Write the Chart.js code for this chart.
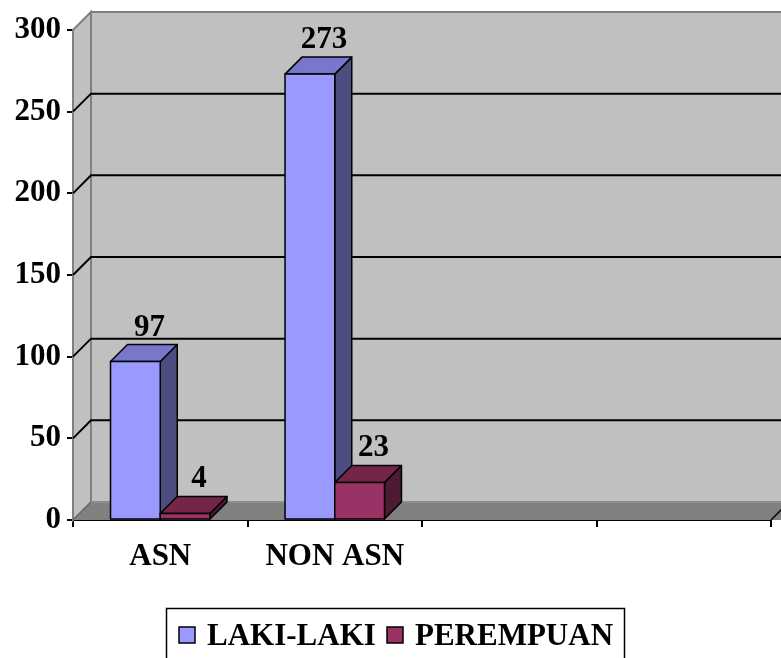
<!DOCTYPE html>
<html>
<head>
<meta charset="utf-8">
<script src="https://cdn.jsdelivr.net/npm/chart.js@4.4.0/dist/chart.umd.min.js"></script>
<style>
html,body{margin:0;padding:0;background:#fff;}
#wrap{width:781px;height:658px;position:relative;}
</style>
</head>
<body>
<div id="wrap"><canvas id="c" width="781" height="658"></canvas></div>
<script>
const categories = ['ASN', 'NON ASN', '', ''];
const lakiLaki = [97, 273];
const perempuan = [4, 23];
const seriesNames = ['LAKI-LAKI', 'PEREMPUAN'];
const yTicks = [0, 50, 100, 150, 200, 250, 300];

const FONT = '"Liberation Serif", "Times New Roman", serif';
const front = ['#9999FF', '#993366'];
const side = ['#4D4D80', '#4D1A33'];
const top3d = ['#7777CC', '#732649'];
const WDX = 18, WDY = 18;   // wall depth
const BDX = 17, BDY = 17;   // bar depth

const wallsPlugin = {
  id: 'walls',
  beforeDatasetsDraw(chart) {
    const ctx = chart.ctx;
    const y = chart.scales.y, x = chart.scales.x;
    const L = chart.chartArea.left, R = chart.width + 30;
    const T = y.getPixelForValue(300), B = y.getPixelForValue(0);
    ctx.save();
    ctx.fillStyle = '#C0C0C0';
    ctx.strokeStyle = '#808080';
    ctx.lineWidth = 2;
    ctx.fillRect(L + WDX, T - WDY, R - L, B - T);
    ctx.strokeRect(L + WDX, T - WDY, R - L, B - T);
    ctx.beginPath();
    ctx.moveTo(L, T); ctx.lineTo(L + WDX, T - WDY); ctx.lineTo(L + WDX, B - WDY); ctx.lineTo(L, B); ctx.closePath();
    ctx.fill(); ctx.stroke();
    ctx.fillStyle = '#808080';
    ctx.beginPath();
    ctx.moveTo(L, B); ctx.lineTo(L + WDX, B - WDY); ctx.lineTo(R + WDX, B - WDY); ctx.lineTo(R, B); ctx.closePath();
    ctx.fill();
    ctx.strokeStyle = '#5a5a5a'; ctx.lineWidth = 1;
    ctx.beginPath(); ctx.moveTo(L, B); ctx.lineTo(L + WDX, B - WDY); ctx.stroke();
    ctx.strokeStyle = '#9a9a9a';
    ctx.beginPath(); ctx.moveTo(L + WDX, B - WDY); ctx.lineTo(R + WDX, B - WDY); ctx.stroke();
    const xr = x.right;
    ctx.strokeStyle = '#000'; ctx.lineWidth = 1.5;
    ctx.beginPath(); ctx.moveTo(xr, B); ctx.lineTo(xr + WDX, B - WDY); ctx.stroke();
    ctx.strokeStyle = '#000'; ctx.lineWidth = 2;
    yTicks.forEach(v => {
      if (v === 0 || v === 300) return;
      const py = y.getPixelForValue(v);
      ctx.beginPath();
      ctx.moveTo(L, py); ctx.lineTo(L + WDX, py - WDY); ctx.lineTo(R + WDX, py - WDY);
      ctx.stroke();
    });
    ctx.restore();
  }
};

const bars3dPlugin = {
  id: 'bars3d',
  afterDatasetsDraw(chart) {
    const ctx = chart.ctx;
    const metas = [chart.getDatasetMeta(0), chart.getDatasetMeta(1)];
    const n = lakiLaki.length;
    ctx.save();
    ctx.strokeStyle = '#000';
    ctx.lineWidth = 1.5;
    ctx.lineJoin = 'round';
    for (let i = 0; i < n; i++) {
      for (let d = 0; d < 2; d++) {
        const el = metas[d].data[i];
        if (!el) continue;
        const l = el.x - el.width / 2, r = el.x + el.width / 2, t = el.y, b = el.base;
        ctx.fillStyle = side[d];
        ctx.beginPath();
        ctx.moveTo(r, b); ctx.lineTo(r + BDX, b - BDY); ctx.lineTo(r + BDX, t - BDY); ctx.lineTo(r, t); ctx.closePath();
        ctx.fill(); ctx.stroke();
        ctx.fillStyle = top3d[d];
        ctx.beginPath();
        ctx.moveTo(l, t); ctx.lineTo(l + BDX, t - BDY); ctx.lineTo(r + BDX, t - BDY); ctx.lineTo(r, t); ctx.closePath();
        ctx.fill(); ctx.stroke();
        ctx.fillStyle = front[d];
        ctx.fillRect(l, t, r - l, b - t);
        ctx.strokeRect(l, t, r - l, b - t);
      }
    }
    ctx.fillStyle = '#000';
    ctx.font = 'bold 31px ' + FONT;
    ctx.textAlign = 'center';
    ctx.textBaseline = 'alphabetic';
    for (let d = 0; d < 2; d++) {
      const data = chart.data.datasets[d].data;
      metas[d].data.forEach((el, i) => {
        ctx.fillText(String(data[i]), el.x + 14, el.y - BDY - 9);
      });
    }
    ctx.restore();
  },
  afterDraw(chart) {
    const ctx = chart.ctx;
    ctx.save();
    ctx.strokeStyle = '#000'; ctx.lineWidth = 1.5;
    ctx.strokeRect(166.5, 608.5, 458, 70);
    ctx.font = 'bold 31px ' + FONT;
    ctx.textBaseline = 'alphabetic';
    ctx.textAlign = 'left';
    const items = [{x: 179, label: seriesNames[0], c: front[0]}, {x: 387, label: seriesNames[1], c: front[1]}];
    items.forEach(it => {
      ctx.fillStyle = it.c;
      ctx.fillRect(it.x, 627, 16, 16);
      ctx.lineWidth = 1.5; ctx.strokeStyle = '#000';
      ctx.strokeRect(it.x, 627, 16, 16);
      ctx.fillStyle = '#000';
      ctx.fillText(it.label, it.x + 28, 645);
    });
    ctx.restore();
  }
};

new Chart(document.getElementById('c'), {
  type: 'bar',
  data: {
    labels: categories,
    datasets: [
      { label: seriesNames[0], data: lakiLaki, backgroundColor: 'rgba(0,0,0,0)', borderWidth: 0 },
      { label: seriesNames[1], data: perempuan, backgroundColor: 'rgba(0,0,0,0)', borderWidth: 0 }
    ]
  },
  options: {
    responsive: false,
    animation: false,
    devicePixelRatio: 1,
    layout: { padding: { left: 0, top: 30, right: 10, bottom: 0 } },
    plugins: { legend: { display: false }, tooltip: { enabled: false } },
    datasets: { bar: { categoryPercentage: 0.57, barPercentage: 1.0 } },
    scales: {
      x: {
        grid: { offset: true, drawOnChartArea: false, color: '#000', lineWidth: 2, tickLength: 7 },
        border: { color: '#000', width: 2 },
        ticks: { color: '#000', font: { family: FONT, size: 31, weight: 'bold' }, padding: 11, maxRotation: 0 },
        afterFit(s) { s.height = 138; }
      },
      y: {
        min: 0, max: 300,
        afterBuildTicks(s) { s.ticks = yTicks.map(v => ({ value: v })); },
        grid: { drawOnChartArea: false, color: '#000', lineWidth: 2, tickLength: 6 },
        border: { color: '#000', width: 2 },
        ticks: { color: '#000', font: { family: FONT, size: 31, weight: 'bold' }, padding: 6 },
        afterFit(s) { s.width = 73; }
      }
    }
  },
  plugins: [wallsPlugin, bars3dPlugin]
});
</script>
</body>
</html>
